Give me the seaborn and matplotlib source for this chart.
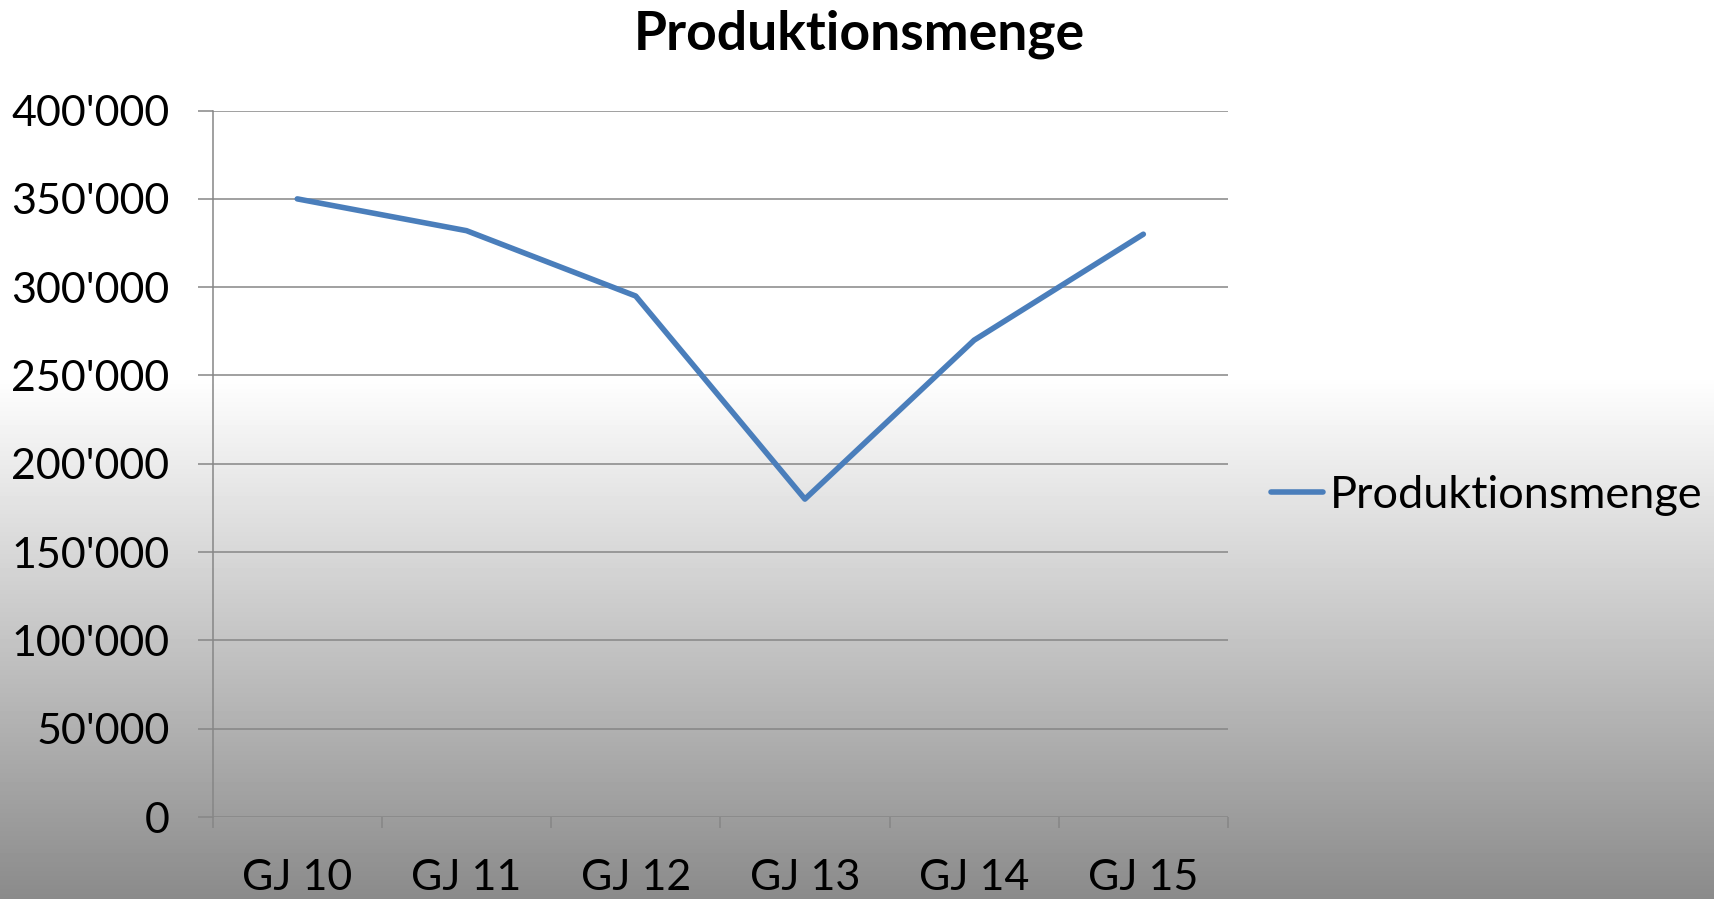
import numpy as np
import pandas as pd
import matplotlib
matplotlib.use('Agg')
import matplotlib.pyplot as plt
import seaborn as sns

# data
jahre = ['GJ 10', 'GJ 11', 'GJ 12', 'GJ 13', 'GJ 14', 'GJ 15']
menge = [350000, 332000, 295000, 180000, 270000, 330000]
y_ticks = [0, 50000, 100000, 150000, 200000, 250000, 300000, 350000, 400000]

df = pd.DataFrame({'Jahr': jahre, 'Produktionsmenge': menge})

sns.set_style('white')
plt.rcParams['font.family'] = ['Lato', 'DejaVu Sans']
plt.rcParams['text.color'] = 'black'
plt.rcParams['xtick.labelcolor'] = 'black'
plt.rcParams['ytick.labelcolor'] = 'black'

fig = plt.figure(figsize=(17.15, 8.99), dpi=100)

# background gradient: white top part, fading to grey at the bottom
bg = fig.add_axes([0, 0, 1, 1], zorder=-10)
h = 899
rows = np.arange(h)
vals = np.where(rows < 375, 255, 255 - (rows - 375) * 0.223) / 255.0
grad = np.repeat(vals[:, None], 10, axis=1)
bg.imshow(grad, cmap='gray', vmin=0, vmax=1, aspect='auto', extent=[0, 1, 0, 1], origin='upper')
bg.axis('off')

ax = fig.add_axes([0.124, 0.0912, 0.716 - 0.124, 0.877 - 0.0912])
ax.set_facecolor('none')

sns.lineplot(data=df, x='Jahr', y='Produktionsmenge', sort=False, ax=ax,
             color='#4a7ebb', linewidth=4.0, label='Produktionsmenge')
ax.lines[0].set_solid_capstyle('round')

ax.set_xlim(-0.5, len(jahre) - 0.5)
ax.set_ylim(0, 400000)
ax.set_yticks(y_ticks)
ax.set_yticklabels([f"{v:,}".replace(',', "'") for v in y_ticks])
ax.set_xticks(range(len(jahre)))
ax.set_xticklabels(jahre)
ax.set_xticks(np.arange(-0.5, len(jahre), 1.0), minor=True)

ax.grid(axis='y', color='#868686', linewidth=1.1)
ax.set_axisbelow(True)
for s in ['top', 'right', 'bottom']:
    ax.spines[s].set_visible(False)
ax.spines['left'].set_color('#868686')
ax.spines['left'].set_linewidth(1.1)

ax.tick_params(axis='y', which='major', length=11, width=1.1, color='#868686',
               pad=20, labelsize=31, left=True)
ax.tick_params(axis='x', which='major', length=0, pad=30, labelsize=31)
ax.tick_params(axis='x', which='minor', length=8, width=1.1, color='#868686', bottom=True)
ax.set_xlabel('')
ax.set_ylabel('')

fig.text(0.501, 0.962, 'Produktionsmenge', ha='center', va='center',
         fontsize=38.5, fontweight='bold')

leg = ax.legend(loc='center left', bbox_to_anchor=(0.741, 0.449), bbox_transform=fig.transFigure,
                frameon=False, fontsize=32.5, handlelength=1.15, handletextpad=0.15,
                borderaxespad=0, borderpad=0)
leg.get_lines()[0].set_linewidth(4.0)

fig.savefig('out.png', dpi=100)
